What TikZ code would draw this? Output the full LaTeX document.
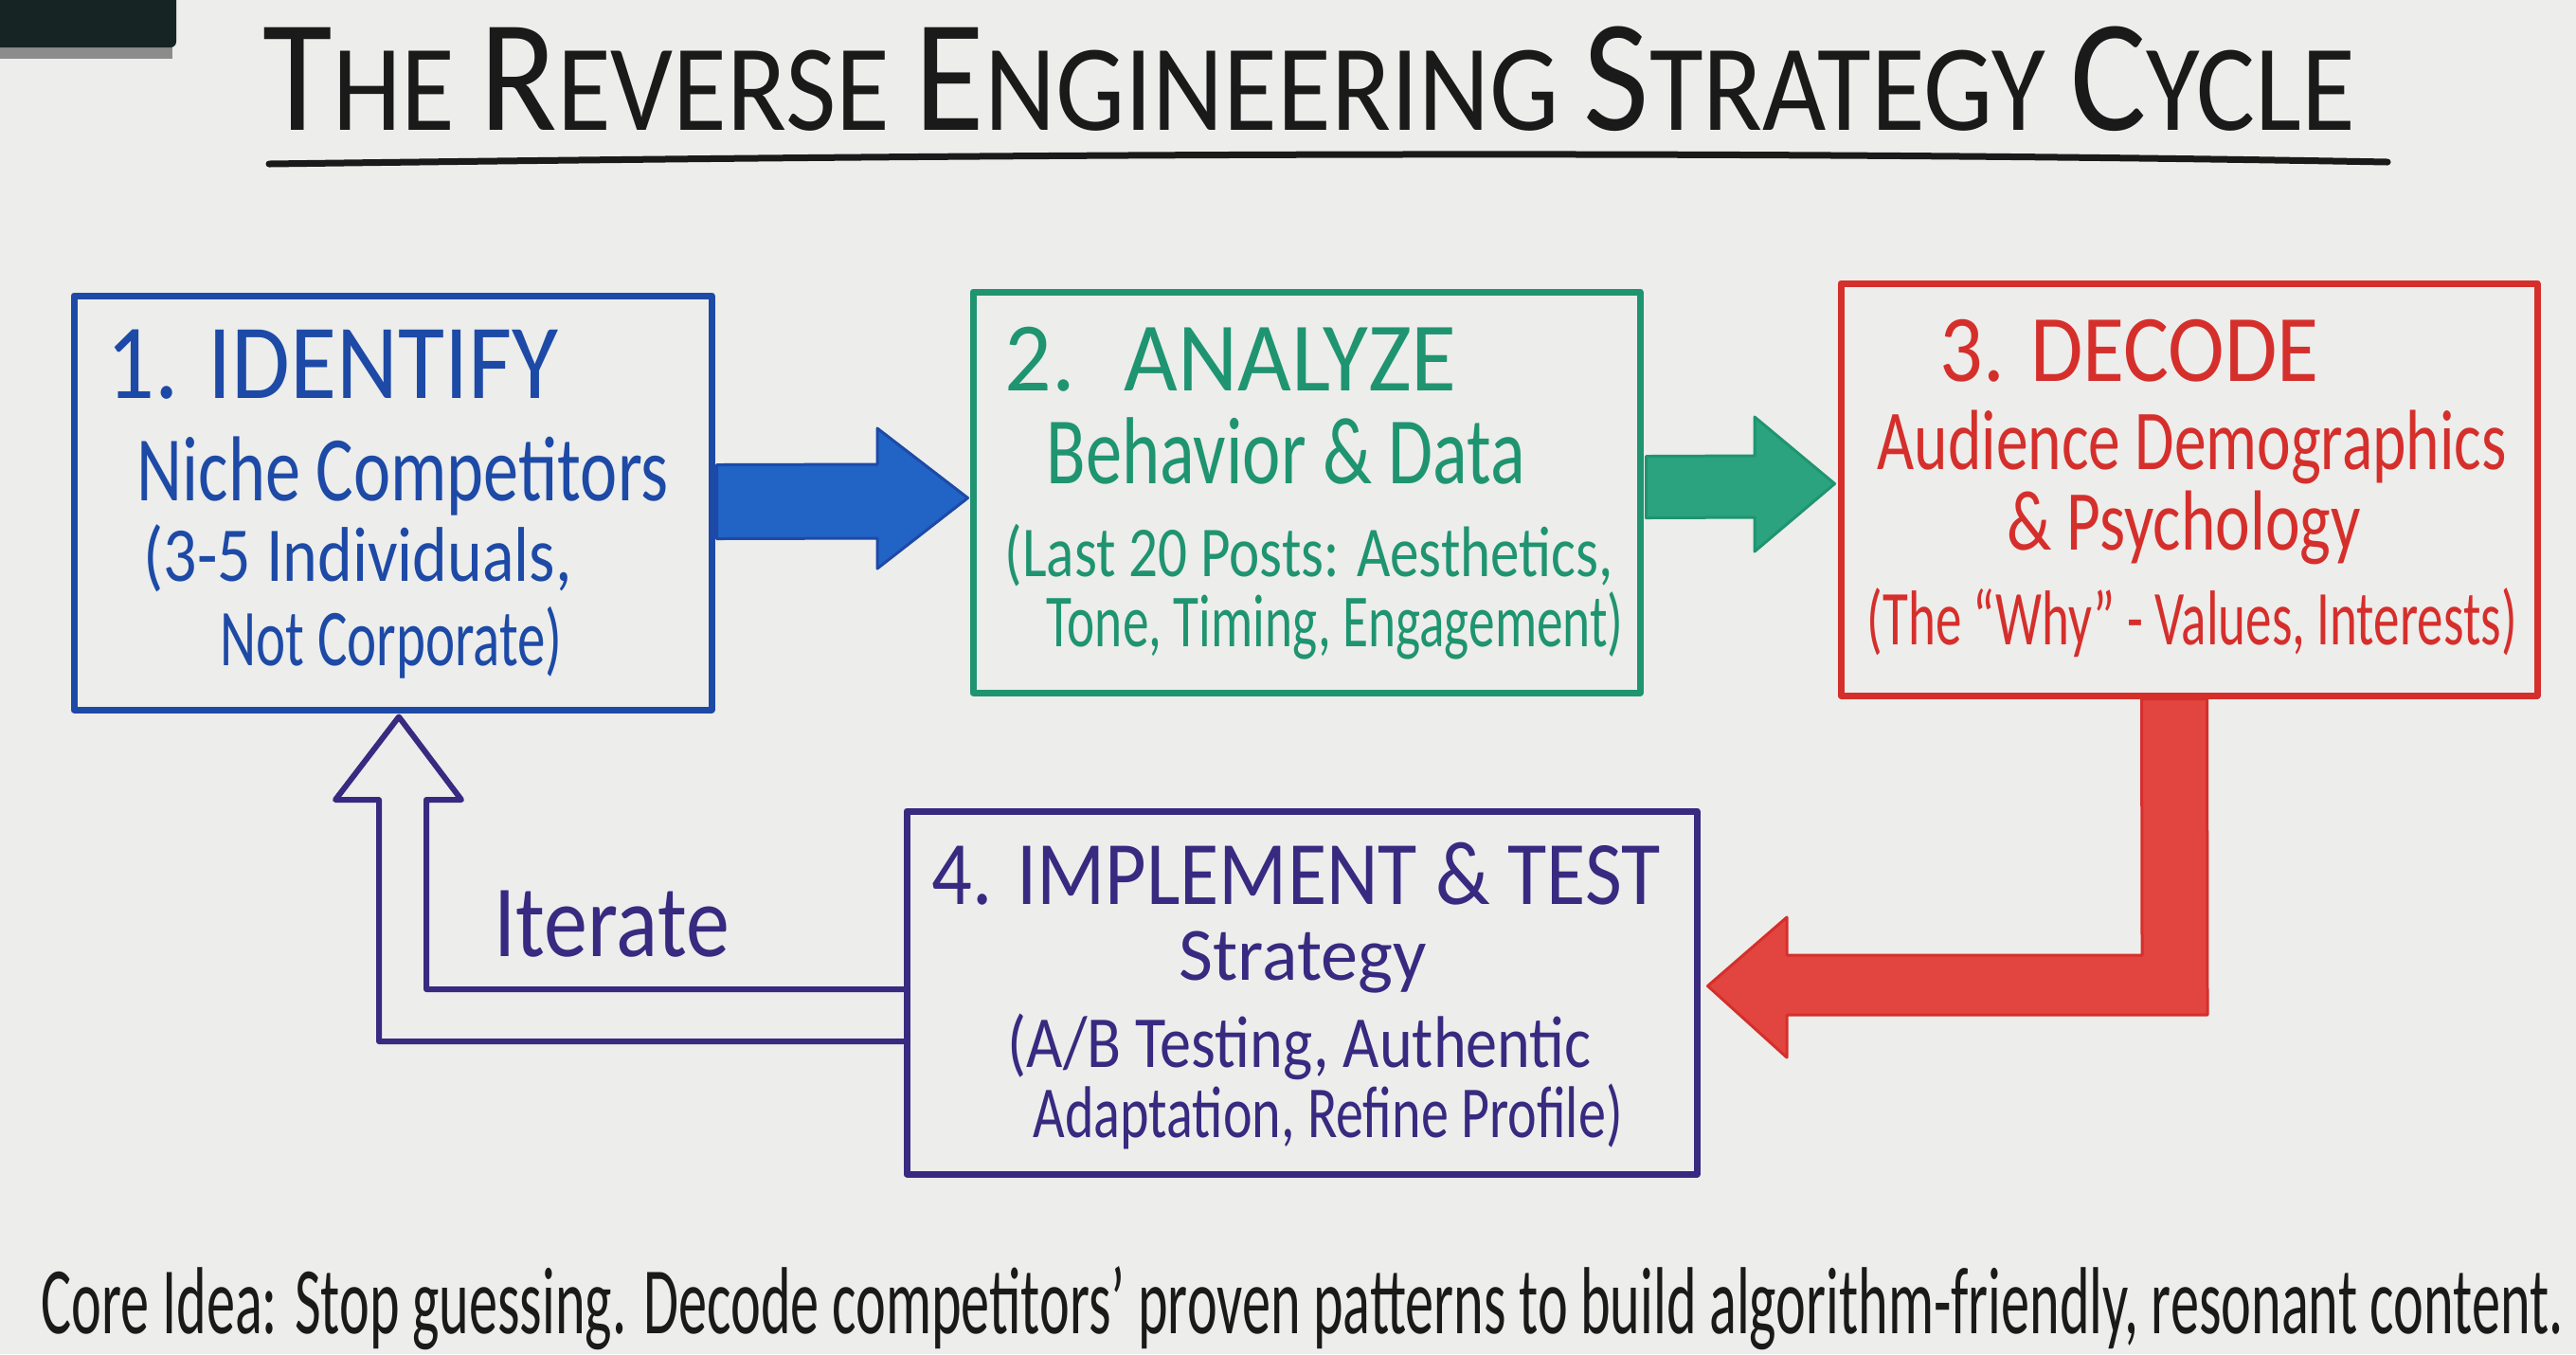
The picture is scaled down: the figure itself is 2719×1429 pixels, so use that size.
\documentclass[tikz,border=0pt]{standalone}
\usepackage{fontspec}
\setmainfont{Carlito}
\usetikzlibrary{calc}
\newlength\pxu \setlength\pxu{0.01cm}
\newcommand\tline[3]{{\fontsize{#2}{#2}\selectfont\resizebox{#1\pxu}{\height}{#3}}}
\newcommand\Lg[1]{{\fontsize{48}{48}\selectfont #1}}
\definecolor{bgc}{HTML}{EDEDEB}
\definecolor{cblue}{HTML}{1D4AA6}
\definecolor{cbluef}{HTML}{2263C6}
\definecolor{cgreen}{HTML}{1F9470}
\definecolor{cgreenf}{HTML}{2BA37F}
\definecolor{cred}{HTML}{D52F2C}
\definecolor{credf}{HTML}{E2453F}
\definecolor{cpurp}{HTML}{372A80}
\definecolor{cink}{HTML}{1A1A1A}
\begin{document}
\begin{tikzpicture}[x=0.01cm,y=-0.01cm,
  txt/.style={anchor=base west, inner sep=0},
  box/.style={draw, line width=7\pxu, line join=round, inner sep=0},
  fatarrow/.style={line width=3\pxu, line join=round},
  hollow/.style={draw=cpurp, line width=6\pxu, line join=round, line cap=round}]
\useasboundingbox (0,0) rectangle (2719,1429);
\clip (0,0) rectangle (2719,1429);
% background
\fill[bgc] (0,0) rectangle (2719,1429);
% marker tray in corner
\fill[black!45] (0,40) rectangle (182,62);
\fill[cink!90!teal, rounded corners=6\pxu] (-20,-20) rectangle (186,50);
% title
\node[txt, text=cink] (title) at (277,137) {\tline{2208}{37}{\Lg{T}HE \Lg{R}EVERSE \Lg{E}NGINEERING \Lg{S}TRATEGY \Lg{C}YCLE}};
\coordinate (ulA) at (284,173);
\coordinate (ulB) at (2520,171);
\draw[cink, line width=7\pxu, line cap=round] (ulA) .. controls (900,165) and (1700,156) .. (ulB);
% boxes
\node[box, draw=cblue, minimum width=673\pxu, minimum height=437\pxu] (b1) at (414.5,530.5) {};
\node[box, draw=cgreen, minimum width=704\pxu, minimum height=423\pxu] (b2) at (1379,519.5) {};
\node[box, draw=cred, minimum width=735\pxu, minimum height=435\pxu] (b3) at (2310.5,516.5) {};
\node[box, draw=cpurp, minimum width=834\pxu, minimum height=383\pxu] (b4) at (1374,1047.5) {};
% box 1 text
\node[txt, text=cblue] (t1a) at (112,420) {\tline{477}{32}{1. IDENTIFY}};
\node[txt, text=cblue] (t1b) at (144,528) {\tline{561}{27.7}{Niche Competitors}};
\node[txt, text=cblue] (t1c) at (151,613) {\tline{452}{23.3}{(3-5 Individuals,}};
\node[txt, text=cblue] (t1d) at (232,702) {\tline{361}{24.2}{Not Corporate)}};
% box 2 text
\node[txt, text=cgreen] (t2a) at (1060,412) {\tline{477}{29.5}{2.~ ANALYZE}};
\node[txt, text=cgreen] (t2b) at (1104,510) {\tline{505}{28.6}{Behavior \& Data}};
\node[txt, text=cgreen] (t2c) at (1060,608) {\tline{642}{21.5}{(Last 20 Posts: Aesthetics,}};
\node[txt, text=cgreen] (t2d) at (1104,682) {\tline{609}{22.5}{Tone, Timing, Engagement)}};
% box 3 text
\node[txt, text=cred] (t3a) at (2047,402) {\tline{400}{28.6}{3. DECODE}};
\node[txt, text=cred] (t3b) at (1981,495) {\tline{664}{25.6}{Audience Demographics}};
\node[txt, text=cred] (t3c) at (2118,580) {\tline{373}{25.6}{\& Psychology}};
\node[txt, text=cred] (t3d) at (1970,680) {\tline{686}{23.3}{(The “Why” - Values, Interests)}};
% box 4 text
\node[txt, text=cpurp] (t4a) at (983,954) {\tline{769}{27.2}{4. IMPLEMENT \& TEST}};
\node[txt, text=cpurp] (t4b) at (1244,1034) {\tline{261}{22.6}{Strategy}};
\node[txt, text=cpurp] (t4c) at (1063,1126) {\tline{616}{22}{(A/B Testing, Authentic}};
\node[txt, text=cpurp] (t4d) at (1090,1200) {\tline{622}{22}{Adaptation, Refine Profile)}};
% iterate label
\node[txt, text=cpurp] (iter) at (521,1009) {\tline{248}{30.8}{Iterate}};
% blue arrow b1 -> b2
\filldraw[fatarrow, fill=cbluef, draw=cblue]
  ($(b1.east)+(2,-40)$) -- (926,490) -- (926,452) -- ($(b2.west)+(-2,6)$) -- (926,600) -- (926,568) -- ($(b1.east)+(2,38)$) -- cycle;
% green arrow b2 -> b3
\filldraw[fatarrow, fill=cgreenf, draw=cgreen]
  ($(b2.east)+(3,-38)$) -- (1852,481) -- (1852,440) -- ($(b3.west)+(-3,-6)$) -- (1852,582) -- (1852,546) -- ($(b2.east)+(3,27)$) -- cycle;
% red arrow b3 -> b4
\filldraw[fatarrow, fill=credf, draw=cred]
  ($(b3.south)+(-50,0)$) -- ($(b3.south)+(19,0)$) -- (2330,1071) -- (1886,1071) -- (1886,1116) -- ($(b4.east)+(8,-7)$) -- (1886,968) -- (1886,1008) -- (2261,1008) -- cycle;
% hollow iterate arrow b4 -> b1
\coordinate (tip) at ($(b1.south)+(6.5,4)$);
\draw[hollow] ($(b4.west)+(0,-3.5)$) -- (450,1044) -- (450,844) -- (487,844) -- (tip) -- (354,844) -- (400,844) -- (400,1099) -- ($(b4.west)+(0,51.5)$);
% core idea
\node[txt, text=cink] (core) at (43,1407) {\tline{2662}{28.6}{Core Idea: Stop guessing. Decode competitors’ proven patterns to build algorithm-friendly, resonant content.}};
\end{tikzpicture}
\end{document}
